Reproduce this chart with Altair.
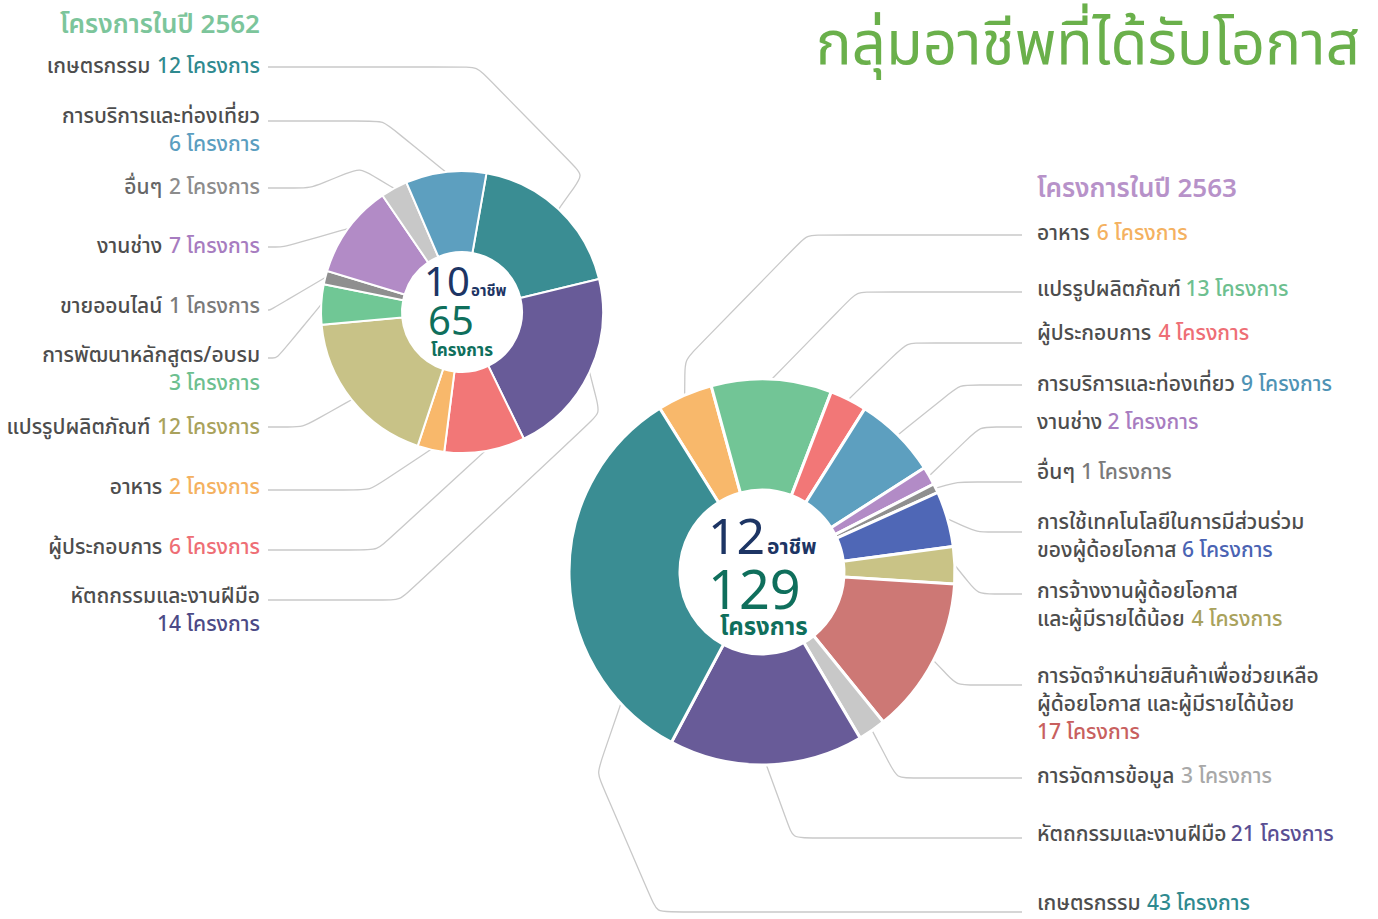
import math
import altair as alt
import pandas as pd

# ---------------- data ----------------
cats_2562 = ["เกษตรกรรม", "หัตถกรรมและงานฝีมือ", "ผู้ประกอบการ", "อาหาร", "แปรรูปผลิตภัณฑ์",
             "การพัฒนาหลักสูตร/อบรม", "ขายออนไลน์", "งานช่าง", "อื่นๆ", "การบริการและท่องเที่ยว"]
vals_2562 = [12, 14, 6, 2, 12, 3, 1, 7, 2, 6]
cols_2562 = ["#3a8d93", "#685b98", "#f27777", "#f8b86b", "#c8c287",
             "#70c795", "#8f8f8f", "#b28bc6", "#c8c8c8", "#5d9fbf"]
cnt_cols_2562 = ["#2f8a8f", "#4c4a86", "#ee6e75", "#f4b160", "#a9a25c",
                 "#6dbf8f", "#7a7a7a", "#a77cc0", "#8c8c8c", "#5b9ec0"]

cats_2563 = ["อาหาร", "แปรรูปผลิตภัณฑ์", "ผู้ประกอบการ", "การบริการและท่องเที่ยว", "งานช่าง", "อื่นๆ",
             "การใช้เทคโนโลยีในการมีส่วนร่วมของผู้ด้อยโอกาส",
             "การจ้างงานผู้ด้อยโอกาสและผู้มีรายได้น้อย",
             "การจัดจำหน่ายสินค้าเพื่อช่วยเหลือผู้ด้อยโอกาส และผู้มีรายได้น้อย",
             "การจัดการข้อมูล", "หัตถกรรมและงานฝีมือ", "เกษตรกรรม"]
vals_2563 = [6, 13, 4, 9, 2, 1, 6, 4, 17, 3, 21, 43]
cols_2563 = ["#f8b86b", "#72c596", "#f27777", "#5d9fbf", "#b28bc6", "#8f8f8f",
             "#4f67b6", "#c9c386", "#cd7875", "#c8c8c8", "#685b98", "#3a8d93"]
cnt_cols_2563 = ["#f4b160", "#6dbf8f", "#ee6e75", "#4f93b5", "#a77cc0", "#7a7a7a",
                 "#4a63b3", "#a9a25c", "#c8605e", "#a8a8a8", "#5a4f93", "#2f8a8f"]

unit = "โครงการ"
title_text = "กลุ่มอาชีพที่ได้รับโอกาส"
head_2562 = "โครงการในปี 2562"
head_2563 = "โครงการในปี 2563"
center_2562 = ("10", "อาชีพ", "65", "โครงการ")
center_2563 = ("12", "อาชีพ", "129", "โครงการ")

# ---------------- layout ----------------
FONT = "Noto Sans Thai, Noto Sans Thai UI, Loma, Garuda, sans-serif"
W, H = 1378, 919
C1, R1, IR1, START1 = (462, 312), 141, 60, 10.0
C2, R2, IR2, START2 = (762, 572), 193, 82, -32.0
NAME_COL = "#4d4d4d"
LINE_COL = "#c9c9c9"

LX = 260
lab_y_2562 = [67, 597, 548, 488, 428, 356, 307, 247, 188, 117]
lab_split_2562 = [False, True, False, False, False, True, False, False, False, True]
line_y_2562 = [67, 600, 550, 490, 427, 358, 310, 247, 188, 121]
knee_2562 = [477, 400, 377, 370, 303, 277, 270, 283, 310, 383]
extra_2562 = {0: [(583, 175)], 1: [(600, 413)], 8: [(360, 168)]}

RX = 1037
name_lines_2563 = [["อาหาร"], ["แปรรูปผลิตภัณฑ์"], ["ผู้ประกอบการ"], ["การบริการและท่องเที่ยว"],
                   ["งานช่าง"], ["อื่นๆ"], ["การใช้เทคโนโลยีในการมีส่วนร่วม", "ของผู้ด้อยโอกาส"],
                   ["การจ้างงานผู้ด้อยโอกาส", "และผู้มีรายได้น้อย"],
                   ["การจัดจำหน่ายสินค้าเพื่อช่วยเหลือ", "ผู้ด้อยโอกาส และผู้มีรายได้น้อย", ""],
                   ["การจัดการข้อมูล"], ["หัตถกรรมและงานฝีมือ"], ["เกษตรกรรม"]]
lab_y_2563 = [234, 290, 334, 385, 423, 473, 523, 592, 677, 777, 835, 904]
line_y_2563 = [235, 292, 343, 385, 427, 482, 532, 594, 685, 778, 838, 912]
knee_2563 = [807, 857, 907, 960, 980, 957, 977, 978, 957, 897, 793, 657]
extra_2563 = {0: [(685, 360)], 11: [(597, 773)]}
anchor_override_2563 = {11: 227.0}

FS = 21
LH = 28

COMB = set("\u0e31\u0e34\u0e35\u0e36\u0e37\u0e38\u0e39\u0e3a\u0e47\u0e48\u0e49\u0e4a\u0e4b\u0e4c\u0e4d\u0e4e")
CW = {"ก": .62, "ข": .57, "ค": .58, "ง": .50, "จ": .52, "ช": .56, "ด": .58, "ต": .60, "ถ": .60,
      "ท": .58, "น": .58, "บ": .57, "ป": .57, "ผ": .66, "ฝ": .65, "พ": .66, "ภ": .59, "ม": .62,
      "ย": .60, "ร": .50, "ล": .56, "ว": .48, "ส": .60, "ห": .58, "อ": .55, "ษ": .63, "ณ": .88,
      "ฑ": .78, "ญ": .88, "ะ": .43, "า": .46, "ำ": .46, "เ": .35, "แ": .56, "โ": .36, "ใ": .34,
      "ไ": .36, "ๆ": .66, " ": .26, "/": .32}


def tw(s, fs):
    w = 0.0
    for ch in s:
        if ch in COMB:
            continue
        if ch.isdigit():
            w += 0.572 * fs
        else:
            w += CW.get(ch, 0.57) * fs
    return w


def mid_angles(vals, start):
    tot = sum(vals)
    out, acc = [], start
    for v in vals:
        a = v / tot * 360.0
        out.append(acc + a / 2)
        acc += a
    return out


def rounded(points, r=14):
    res = [points[0]]
    for i in range(1, len(points) - 1):
        (x0, y0), (x1, y1), (x2, y2) = points[i - 1], points[i], points[i + 1]
        d1 = math.hypot(x1 - x0, y1 - y0) or 1
        d2 = math.hypot(x2 - x1, y2 - y1) or 1
        rr1, rr2 = min(r, d1 / 2), min(r, d2 / 2)
        res.append((x1 - (x1 - x0) / d1 * rr1, y1 - (y1 - y0) / d1 * rr1))
        res.append((x1, y1))
        res.append((x1 + (x2 - x1) / d2 * rr2, y1 + (y2 - y1) / d2 * rr2))
    res.append(points[-1])
    return res


# ---------------- tables ----------------
d1 = pd.DataFrame({"cat": cats_2562, "val": vals_2562, "col": cols_2562, "idx": range(len(vals_2562))})
d2 = pd.DataFrame({"cat": cats_2563, "val": vals_2563, "col": cols_2563, "idx": range(len(vals_2563))})

GAP = 0.3 * FS
texts = []
for i, (c, v) in enumerate(zip(cats_2562, vals_2562)):
    cnt = f"{v} {unit}"
    y = lab_y_2562[i]
    if lab_split_2562[i]:
        texts.append(dict(px=LX, py=y, t=c, col=NAME_COL, al="right", fs=FS, fw=500))
        texts.append(dict(px=LX, py=y + LH, t=cnt, col=cnt_cols_2562[i], al="right", fs=FS, fw=500))
    else:
        ncol = "#666666" if c == "อื่นๆ" else NAME_COL
        texts.append(dict(px=LX, py=y, t=cnt, col=cnt_cols_2562[i], al="right", fs=FS, fw=500))
        texts.append(dict(px=LX - tw(cnt, FS) - GAP, py=y, t=c, col=ncol, al="right", fs=FS, fw=500))
for i, (lines, v) in enumerate(zip(name_lines_2563, vals_2563)):
    cnt = f"{v} {unit}"
    y = lab_y_2563[i]
    for k, ln in enumerate(lines):
        yy = y + k * LH
        if ln:
            texts.append(dict(px=RX, py=yy, t=ln, col=NAME_COL, al="left", fs=FS, fw=500))
        if k == len(lines) - 1:
            off = tw(ln, FS) + GAP if ln else 0
            texts.append(dict(px=RX + off, py=yy, t=cnt, col=cnt_cols_2563[i], al="left", fs=FS, fw=500))
texts.append(dict(px=LX, py=25, t=head_2562, col="#7cc59b", al="right", fs=26, fw=600))
texts.append(dict(px=RX, py=189, t=head_2563, col="#b792c9", al="left", fs=26, fw=600))
tdf = pd.DataFrame(texts)

cdf = pd.DataFrame([
    dict(px=C1[0] - 38, py=C1[1] - 16, t=center_2562[0], col="#1d3564", al="left", fs=40, fw=400),
    dict(px=C1[0] + 9, py=C1[1] - 16, t=center_2562[1], col="#1d3564", al="left", fs=15, fw=700),
    dict(px=C1[0] - 34, py=C1[1] + 23, t=center_2562[2], col="#0f6f5c", al="left", fs=40, fw=400),
    dict(px=C1[0] - 31, py=C1[1] + 44, t=center_2562[3], col="#0f6f5c", al="left", fs=17, fw=700),
    dict(px=C2[0] - 54, py=C2[1] - 18, t=center_2563[0], col="#1d3564", al="left", fs=50, fw=400),
    dict(px=C2[0] + 5, py=C2[1] - 18, t=center_2563[1], col="#1d3564", al="left", fs=21, fw=700),
    dict(px=C2[0] - 54, py=C2[1] + 37, t=center_2563[2], col="#0f6f5c", al="left", fs=54, fw=400),
    dict(px=C2[0] - 42, py=C2[1] + 63, t=center_2563[3], col="#0f6f5c", al="left", fs=24, fw=700),
])

rows = []


def add_lines(prefix, vals, start, center, R, xs, ys, knees, extra, override):
    mids = mid_angles(vals, start)
    for i in range(len(vals)):
        ang = math.radians(override.get(i, mids[i]))
        ex = center[0] + R * math.sin(ang)
        ey = center[1] - R * math.cos(ang)
        pts = [(xs, ys[i]), (knees[i], ys[i])] + extra.get(i, []) + [(ex, ey)]
        for j, (px, py) in enumerate(rounded(pts)):
            rows.append(dict(lid=f"{prefix}{i}", o=j, px=px, py=py))


add_lines("a", vals_2562, START1, C1, R1, 268, line_y_2562, knee_2562, extra_2562, {})
add_lines("b", vals_2563, START2, C2, R2, 1022, line_y_2563, knee_2563, extra_2563, anchor_override_2563)
ldf = pd.DataFrame(rows)

# ---------------- chart ----------------
X = alt.X("px:Q", scale=None, axis=None)
Y = alt.Y("py:Q", scale=None, axis=None)

lines = alt.Chart(ldf).mark_line(interpolate="basis", stroke=LINE_COL, strokeWidth=1.3).encode(
    x=X, y=Y, detail="lid:N", order="o:Q")


def donut(df, center, R, IR, start, sw):
    s = math.radians(start)
    return alt.Chart(df).mark_arc(innerRadius=IR, outerRadius=R, stroke="white", strokeWidth=sw).encode(
        theta=alt.Theta("val:Q", stack=True, scale=alt.Scale(range=[s, s + 2 * math.pi])),
        color=alt.Color("col:N", scale=None, legend=None),
        detail="cat:N",
        order=alt.Order("idx:Q"),
        x=alt.value(center[0]), y=alt.value(center[1]))


def text_layer(df, baseline="middle"):
    layers = []
    for (al, fs, fw), g in df.groupby(["al", "fs", "fw"]):
        layers.append(alt.Chart(g).mark_text(align=al, baseline=baseline, fontSize=float(fs),
                                              fontWeight=int(fw), font=FONT).encode(
            x=X, y=Y, text="t:N", color=alt.Color("col:N", scale=None, legend=None)))
    return layers


title = alt.Chart(pd.DataFrame({"t": [title_text]})).mark_text(
    align="right", baseline="alphabetic", fontSize=60, font=FONT, color="#6ab04b", fontWeight=400
).encode(text="t:N", x=alt.value(1360), y=alt.value(64))

d1c = donut(d1, C1, R1, IR1, START1, 2)
d2c = donut(d2, C2, R2, IR2, START2, 3)

chart = alt.layer(lines, d1c, d2c, *text_layer(tdf), *text_layer(cdf, "alphabetic"), title).resolve_scale(
    theta="independent"
).properties(width=W, height=H, padding=0, autosize=alt.AutoSizeParams(type="none"),
             background="white").configure_view(stroke=None)

chart.save("out.html", embed_options={"renderer": "svg", "actions": False})
